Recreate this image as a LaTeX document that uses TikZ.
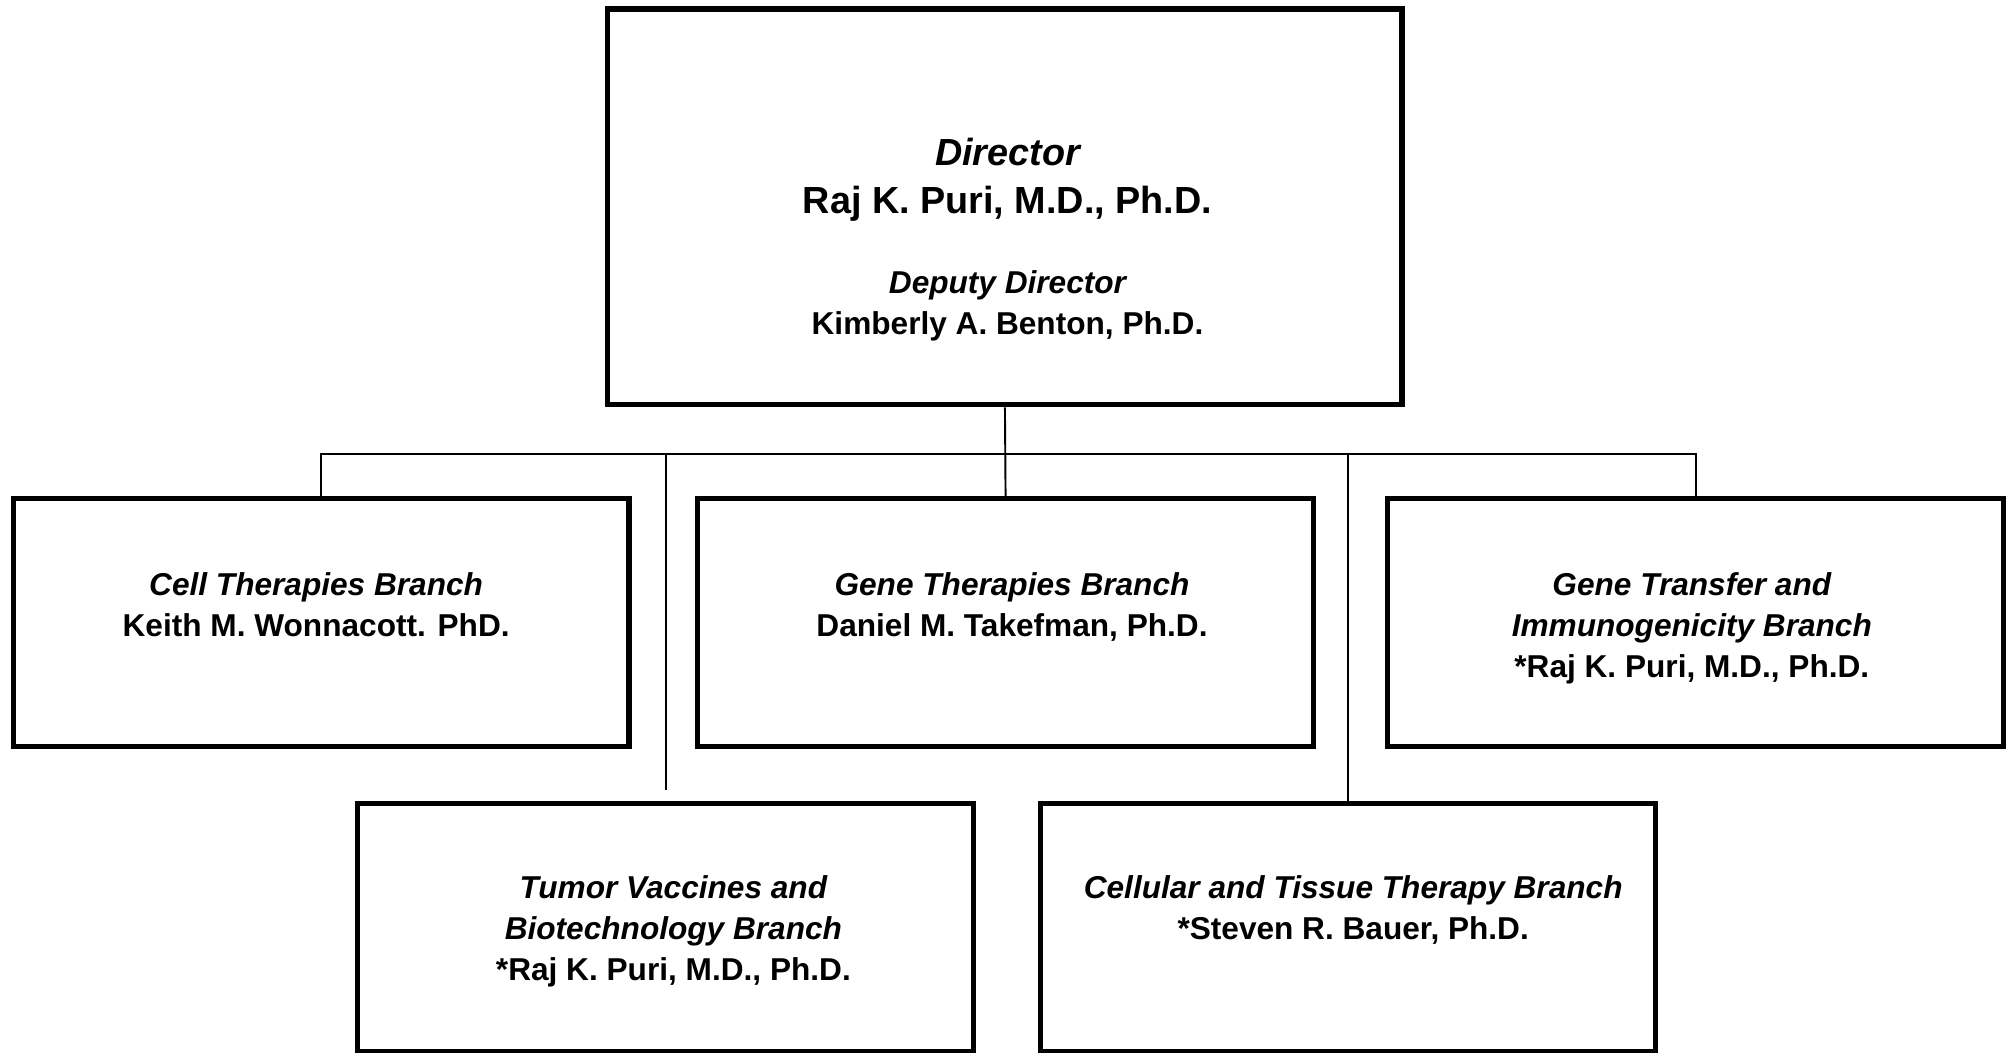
\documentclass[tikz,border=0pt]{standalone}
\usepackage{fontspec}
\setmainfont{Liberation Sans}
\begin{document}
\begin{tikzpicture}[x=1pt,y=-1pt,
  box/.style={draw, line width=4pt, inner sep=0pt, minimum width=479pt, minimum height=193pt},
  txt/.style={anchor=base, align=center, inner sep=0pt, font=\bfseries\fontsize{24.6}{32}\selectfont},
  link/.style={line width=1.5pt}]
\useasboundingbox (0,0) rectangle (1568,819.4);
% boxes
\node[box, minimum width=618pt, minimum height=308pt] (dir) at (782,161) {};
\node[box] (cell) at (250,484.5) {};
\node[box] (gene) at (782.5,484.5) {};
\node[box] (trans) at (1319.5,484.5) {};
\node[box] (tumor) at (518,721.5) {};
\node[box] (ctt) at (1049,721.5) {};
% texts (anchor base = baseline of the last line)
\node[txt] (dirT) at ([xshift=2pt,yshift=-255pt]dir.north)
  {{\itshape\fontsize{29.4}{37}\selectfont Director}\\[5pt]
   {\fontsize{29.4}{37}\selectfont Raj K. Puri, M.D., Ph.D.}\\[30pt]
   \itshape Deputy Director\\
   \upshape Kimberly A. Benton, Ph.D.};
\node[txt] (cellT) at ([xshift=-4pt,yshift=-109pt]cell.north)
  {\itshape Cell Therapies Branch\\ \upshape Keith M. Wonnacott. PhD.};
\node[txt] (geneT) at ([xshift=5pt,yshift=-109pt]gene.north)
  {\itshape Gene Therapies Branch\\ \upshape Daniel M. Takefman, Ph.D.};
\node[txt] (transT) at ([xshift=-3pt,yshift=-141pt]trans.north)
  {\itshape Gene Transfer and\\ \itshape Immunogenicity Branch\\ \upshape *Raj K. Puri, M.D., Ph.D.};
\node[txt] (tumorT) at ([xshift=6pt,yshift=-140pt]tumor.north)
  {\itshape Tumor Vaccines and\\ \itshape Biotechnology Branch\\ \upshape *Raj K. Puri, M.D., Ph.D.};
\node[txt] (cttT) at ([xshift=4pt,yshift=-108pt]ctt.north)
  {\itshape Cellular and Tissue Therapy Branch\\ \upshape *Steven R. Bauer, Ph.D.};
% connectors
\coordinate (bus) at (782,353);
\draw[link] (dir.south) -- (gene.north);
\draw[link] (cell.north) -- (cell.north |- bus) -- (trans.north |- bus) -- (trans.north);
\draw[link] (tumor.north |- bus) -- ([yshift=8pt]tumor.north);
\draw[link] (ctt.north |- bus) -- (ctt.north);
\end{tikzpicture}
\end{document}
